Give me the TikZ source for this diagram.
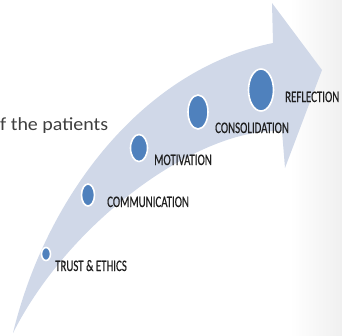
\documentclass[tikz,border=0pt]{standalone}
\usepackage{fontspec}
\setmainfont{Carlito}
\newfontfamily\labfont[FakeStretch=0.68,FakeBold=0.4]{Carlito}
\newfontfamily\txtfont[FakeStretch=1.08]{Carlito}
\usetikzlibrary{shapes.geometric}
\definecolor{arrowfill}{HTML}{D0D8E8}
\definecolor{dotblue}{HTML}{4F81BD}
\definecolor{txtgray}{HTML}{3F3F3F}
\definecolor{labtext}{HTML}{1F1F1F}
\tikzset{
  dotnode/.style 2 args={ellipse, fill=dotblue, draw=white, line width=1.6pt,
    inner sep=0pt, minimum width=#1, minimum height=#2},
  lab/.style={anchor=base west, inner sep=0pt, text=labtext,
    font=\labfont\fontsize{16}{16}\selectfont},
}
\begin{document}
\begin{tikzpicture}[x=1pt,y=-1pt]
\useasboundingbox (0,0) rectangle (342,335);
% subtle slide background shading on the right
\shade[left color=white, right color=black!6] (290,0) rectangle (342,335);
% curved arrow
\fill[arrowfill] (13,333) .. controls (45,200) and (140,70) .. (273,43)
  -- (272,3) -- (322,70) -- (285,168) -- (282,131)
  .. controls (200,127) and (70,220) .. (13,333) -- cycle;
% side text
\node[anchor=base west, inner sep=0pt, text=txtgray,
  font=\txtfont\fontsize{18.5}{18.5}\selectfont] (pat) at (0,130) {f the patients};
% dots
\node[dotnode={9pt}{13pt}] (d1) at (46,254) {};
\node[dotnode={13pt}{22pt}] (d2) at (88,195) {};
\node[dotnode={17pt}{27pt}] (d3) at (139,148) {};
\node[dotnode={20pt}{34pt}] (d4) at (198,112) {};
\node[dotnode={25pt}{42pt}] (d5) at (261,90) {};
% labels
\node[lab] (l1) at (55,271) {TRUST \& ETHICS};
\node[lab] (l2) at (107,207) {COMMUNICATION};
\node[lab] (l3) at (154,165) {MOTIVATION};
\node[lab] (l4) at (215,133) {CONSOLIDATION};
\node[lab] (l5) at (285,102) {REFLECTION};
\end{tikzpicture}
\end{document}
